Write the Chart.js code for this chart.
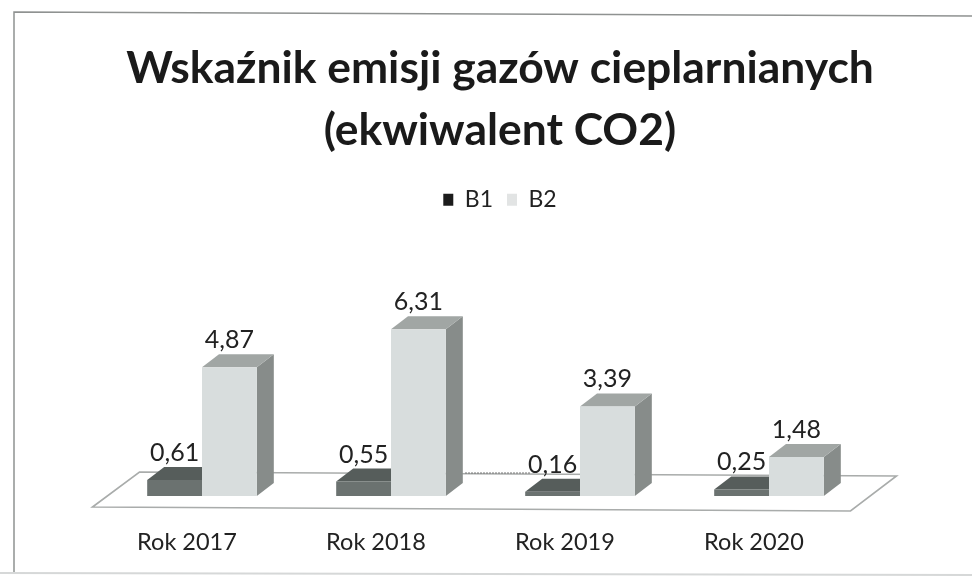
<!DOCTYPE html>
<html><head><meta charset="utf-8">
<style>html,body{margin:0;padding:0;background:#fff}canvas{display:block}</style>
<script src="https://cdn.jsdelivr.net/npm/chart.js@4"></script></head>
<body><div style="width:972px;height:576px"><canvas id="c" width="972" height="576"></canvas></div>
<script>
const titleLines = ['Wskaźnik emisji gazów cieplarnianych', '(ekwiwalent CO2)'];
const categories = ['Rok 2017', 'Rok 2018', 'Rok 2019', 'Rok 2020'];
const seriesNames = ['B1', 'B2'];
const b1Values = [0.61, 0.55, 0.16, 0.25];
const b2Values = [4.87, 6.31, 3.39, 1.48];
const frontColors = ['#6b7270', '#d8dddd'];
const topColors = ['#565d5b', '#a1a6a4'];
const sideColors = ['#5c6361', '#878c8a'];
const legendColors = ['#1c1c1c', '#e2e4e4'];
const DX = 17, DY = -13;
const fmt = v => v.toFixed(2).replace('.', ',');

const box3d = {
  id: 'box3d',
  beforeDraw(chart) {
    const c = chart.ctx, w = chart.width, h = chart.height;
    c.save();
    c.strokeStyle = '#8f9291'; c.lineWidth = 1.5;
    c.beginPath(); c.moveTo(14, h - 4); c.lineTo(14, 12); c.lineTo(w, 16); c.stroke();
    c.strokeStyle = '#d6d8d8'; c.lineWidth = 2;
    c.beginPath(); c.moveTo(0, h - 3); c.lineTo(w, h - 1); c.stroke();
    c.restore();
  },
  beforeDatasetsDraw(chart) {
    const c = chart.ctx, x = chart.scales.x, y0 = chart.scales.y.getPixelForValue(0);
    c.save();
    // floor
    const fl = x.left - 15, fr = x.right - 13, bl = x.left + 32, br = x.right + 33;
    c.strokeStyle = '#a9acab'; c.lineWidth = 1.6;
    c.beginPath();
    c.moveTo(fl, y0 + 11); c.lineTo(bl, y0 - 24); c.lineTo(br, y0 - 20); c.lineTo(fr, y0 + 15); c.closePath();
    c.stroke();
    c.strokeStyle = '#777'; c.lineWidth = 1; c.setLineDash([2, 1]);
    const tx = x.getPixelForValue(1) + 74, tx2 = x.getPixelForValue(2) - 50;
    c.beginPath(); c.moveTo(tx, y0 - 23); c.lineTo(tx2, y0 - 23); c.stroke();
    c.setLineDash([]);
    // sides and tops
    chart.data.datasets.forEach((ds, di) => {
      chart.getDatasetMeta(di).data.forEach(el => {
        const l = el.x - el.width / 2, r = el.x + el.width / 2, t = el.y, b = el.base;
        c.fillStyle = sideColors[di];
        c.beginPath(); c.moveTo(r, t); c.lineTo(r + DX, t + DY); c.lineTo(r + DX, b + DY); c.lineTo(r, b); c.closePath(); c.fill();
        c.fillStyle = topColors[di];
        c.beginPath(); c.moveTo(l, t); c.lineTo(l + DX, t + DY); c.lineTo(r + DX, t + DY); c.lineTo(r, t); c.closePath(); c.fill();
      });
    });
    c.restore();
  },
  afterDatasetsDraw(chart) {
    const c = chart.ctx;
    c.save();
    c.font = '25px Lato'; c.fillStyle = '#222'; c.textAlign = 'center'; c.textBaseline = 'middle';
    chart.data.datasets.forEach((ds, di) => {
      chart.getDatasetMeta(di).data.forEach((el, i) => c.fillText(fmt(ds.data[i]), el.x, el.y - 27));
    });
    c.restore();
  }
};

const hiddenAxis = (position, width) => ({
  position, display: true, min: 0, max: 10.4,
  grid: { display: false }, border: { display: false }, ticks: { display: false },
  afterFit(s) { s.width = width; }
});

new Chart(document.getElementById('c'), {
  type: 'bar',
  plugins: [box3d],
  data: {
    labels: categories,
    datasets: [
      { label: seriesNames[0], data: b1Values, backgroundColor: frontColors[0], borderWidth: 0, yAxisID: 'y' },
      { label: seriesNames[1], data: b2Values, backgroundColor: frontColors[1], borderWidth: 0, yAxisID: 'y' }
    ]
  },
  options: {
    responsive: false, animation: false,
    layout: { padding: { left: 28, right: 0, top: 37, bottom: 0 } },
    datasets: { bar: { categoryPercentage: 0.58, barPercentage: 1 } },
    plugins: {
      tooltip: { enabled: false },
      title: {
        display: true, text: titleLines, color: '#1a1a1a',
        font: { family: 'Lato', size: 44.4, weight: 'bold', lineHeight: 1.41 },
        padding: { top: 0, bottom: 12 }
      },
      legend: {
        display: true, position: 'top', align: 'center',
        labels: {
          color: '#222', font: { family: 'Lato', size: 23 },
          boxWidth: 10, boxHeight: 12, padding: 14,
          generateLabels: chart => chart.data.datasets.map((d, i) => ({
            text: d.label, fillStyle: legendColors[i], strokeStyle: legendColors[i], lineWidth: 0, datasetIndex: i, fontColor: '#222'
          }))
        }
      }
    },
    scales: {
      x: {
        grid: { display: false }, border: { display: false },
        ticks: { color: '#222', font: { family: 'Lato', size: 23.5 }, labelOffset: -15, padding: 24, maxRotation: 0 },
        afterFit(s) { s.height = 80; }
      },
      y: hiddenAxis('left', 79.5),
      y2: hiddenAxis('right', 108.5)
    }
  }
});
</script></body></html>
